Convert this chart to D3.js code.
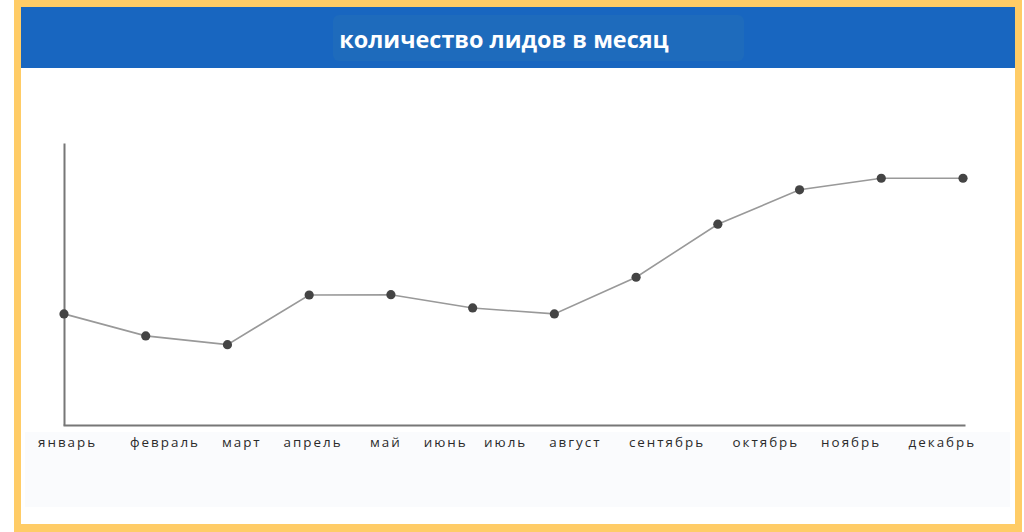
<!DOCTYPE html>
<html>
<head>
<meta charset="utf-8">
<script src="https://cdn.jsdelivr.net/npm/d3@7/dist/d3.min.js"></script>
<style>
  html, body { margin: 0; padding: 0; background: #ffffff; }
  svg { display: block; }
</style>
</head>
<body>
<svg id="chart" width="1024" height="532"></svg>
<script>
const months = ["январь","февраль","март","апрель","май","июнь","июль","август","сентябрь","октябрь","ноябрь","декабрь"];
const leads = [39.4, 31.6, 28.5, 46.1, 46.2, 41.5, 39.4, 52.4, 71.2, 83.4, 87.5, 87.5];
const labelGaps = [6, 4, 4, 5, 4, 3, 4, 5, 5, 4, 5];
const title = "количество лидов в месяц";

const svg = d3.select("#chart");
const W = 1024, H = 532;

// frame
svg.append("rect").attr("x", 0).attr("y", 0).attr("width", W).attr("height", H).attr("fill", "#ffffff");
svg.append("rect").attr("x", 14).attr("y", 0).attr("width", 1008).attr("height", 532).attr("fill", "#FFCC66");
svg.append("rect").attr("x", 21).attr("y", 7).attr("width", 994).attr("height", 517).attr("fill", "#ffffff");

// header
svg.append("rect").attr("x", 21).attr("y", 7).attr("width", 994).attr("height", 61).attr("fill", "#1866C0");
svg.append("rect").attr("x", 333).attr("y", 15).attr("width", 411).attr("height", 46).attr("rx", 6)
  .attr("fill", "#1E6BBC");
svg.append("text").attr("x", 504).attr("y", 47.5).attr("text-anchor", "middle")
  .attr("font-family", "'Open Sans', sans-serif").attr("font-weight", 700).attr("font-size", 23.4)
  .attr("fill", "#ffffff").text(title);

// label band
svg.append("rect").attr("x", 25).attr("y", 432).attr("width", 985).attr("height", 75).attr("fill", "#FAFBFD");

const x = d3.scalePoint().domain(months).range([64, 963]);
const y = d3.scaleLinear().domain([0, 100]).range([425, 143]);

// axes
svg.append("g").attr("transform", "translate(64,0)")
  .call(d3.axisLeft(y).ticks(0).tickSize(0).tickFormat(""))
  .call(g => g.select(".domain").attr("stroke", "#777").attr("stroke-width", 2));
svg.append("g").attr("transform", "translate(0,425)")
  .call(d3.axisBottom(d3.scaleLinear().domain([0, 1]).range([63, 965])).ticks(0).tickSize(0).tickFormat(""))
  .call(g => g.select(".domain").attr("stroke", "#777").attr("stroke-width", 2));

// line
svg.append("path").datum(leads)
  .attr("fill", "none").attr("stroke", "#999").attr("stroke-width", 1.6)
  .attr("d", d3.line().x((d, i) => x(months[i])).y(d => y(d)));

svg.selectAll("circle.pt").data(leads).join("circle").attr("class", "pt")
  .attr("cx", (d, i) => x(months[i])).attr("cy", d => y(d)).attr("r", 4.6).attr("fill", "#444");

// month labels as one text row
const labelText = months.map((m, i) => i < months.length - 1 ? m + "\u00A0".repeat(labelGaps[i]) : m).join("");
svg.append("text").attr("x", 38).attr("y", 447)
  .attr("font-family", "'Open Sans', sans-serif").attr("font-size", 13.4)
  .attr("letter-spacing", 2).attr("fill", "#2a2a2a")
  .style("white-space", "pre").text(labelText);
</script>
</body>
</html>
